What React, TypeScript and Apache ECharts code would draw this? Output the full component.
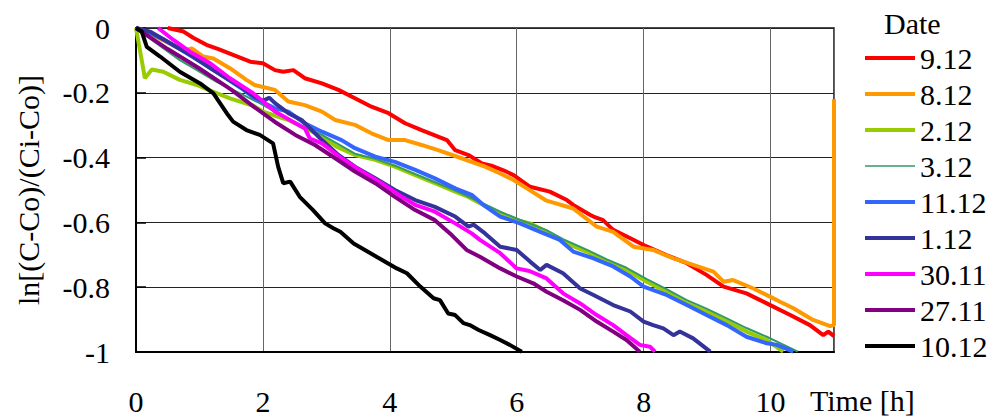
import React, { useEffect, useRef } from "react";
import * as echarts from "echarts";

type P = [number, number];

const seriesNames = ["9.12", "8.12", "2.12", "3.12", "11.12", "1.12", "30.11", "27.11", "10.12"];
const seriesColors = ["#ff0000", "#ff9900", "#99cc00", "#339966", "#3366ff", "#333399", "#ff00ff", "#800080", "#000000"];

const d0912: P[] = [[0.5,0],[0.75,-0.011],[0.9,-0.03],[1.11,-0.052],[1.3,-0.065],[1.53,-0.083],[1.8,-0.104],[2.0,-0.109],[2.19,-0.13],[2.32,-0.135],[2.48,-0.13],[2.66,-0.155],[2.93,-0.171],[3.19,-0.191],[3.45,-0.217],[3.71,-0.243],[3.98,-0.263],[4.24,-0.294],[4.5,-0.315],[4.76,-0.335],[4.9,-0.346],[5.03,-0.377],[5.24,-0.392],[5.45,-0.418],[5.6,-0.425],[5.8,-0.44],[5.95,-0.454],[6.21,-0.49],[6.52,-0.505],[6.79,-0.531],[6.89,-0.546],[7.16,-0.577],[7.21,-0.582],[7.36,-0.593],[7.52,-0.623],[7.79,-0.649],[8.0,-0.67],[8.36,-0.701],[8.68,-0.726],[8.99,-0.762],[9.26,-0.798],[9.62,-0.819],[9.94,-0.85],[10.31,-0.886],[10.62,-0.917],[10.83,-0.948],[10.91,-0.937],[11.0,-0.951]];
const d0812: P[] = [[0,0],[0.3,-0.025],[0.55,-0.05],[0.75,-0.07],[0.88,-0.063],[1.06,-0.088],[1.22,-0.094],[1.48,-0.124],[1.74,-0.16],[1.87,-0.176],[2.19,-0.191],[2.4,-0.227],[2.66,-0.238],[2.93,-0.258],[3.14,-0.284],[3.45,-0.299],[3.71,-0.325],[3.98,-0.346],[4.24,-0.346],[4.5,-0.361],[4.76,-0.377],[5.13,-0.402],[5.5,-0.428],[5.74,-0.449],[5.95,-0.469],[6.16,-0.495],[6.47,-0.533],[6.89,-0.557],[7.26,-0.613],[7.52,-0.629],[7.84,-0.675],[8.15,-0.685],[8.47,-0.711],[8.78,-0.731],[9.1,-0.752],[9.26,-0.783],[9.41,-0.778],[9.73,-0.804],[9.99,-0.829],[10.15,-0.845],[10.36,-0.865],[10.67,-0.901],[10.94,-0.92],[11.0,-0.917],[11.0,-0.22]];
const d0212: P[] = [[0,0],[0.14,-0.155],[0.25,-0.128],[0.43,-0.135],[0.69,-0.16],[0.96,-0.176],[1.22,-0.197],[1.48,-0.217],[1.85,-0.24],[2.0,-0.258],[2.4,-0.284],[2.65,-0.308],[2.93,-0.335],[3.16,-0.366],[3.45,-0.392],[3.77,-0.407],[4.08,-0.428],[4.4,-0.454],[4.71,-0.479],[5.03,-0.505],[5.2,-0.518],[5.42,-0.541],[5.74,-0.572],[6.0,-0.593],[6.21,-0.603],[6.47,-0.629],[6.73,-0.66],[7.1,-0.69],[7.42,-0.721],[7.73,-0.747],[8.05,-0.783],[8.36,-0.814],[8.68,-0.85],[8.99,-0.875],[9.31,-0.906],[9.62,-0.937],[9.94,-0.963],[10.2,-0.999]];
const d0312: P[] = [[0,0],[0.32,-0.047],[0.69,-0.099],[0.96,-0.13],[1.27,-0.166],[1.64,-0.202],[1.95,-0.232],[2.4,-0.282],[2.93,-0.33],[3.45,-0.388],[3.77,-0.404],[4.08,-0.425],[4.4,-0.451],[4.71,-0.476],[5.03,-0.502],[5.42,-0.537],[5.74,-0.567],[6.0,-0.588],[6.47,-0.624],[6.73,-0.652],[7.1,-0.684],[7.42,-0.714],[7.73,-0.74],[8.05,-0.775],[8.36,-0.806],[8.68,-0.84],[8.99,-0.866],[9.31,-0.896],[9.62,-0.926],[9.94,-0.953],[10.2,-0.977],[10.43,-0.999]];
const d1112: P[] = [[0,0],[0.12,-0.006],[0.43,-0.035],[0.75,-0.072],[1.06,-0.11],[1.38,-0.15],[1.69,-0.19],[1.87,-0.217],[2.19,-0.248],[2.4,-0.258],[2.66,-0.294],[2.93,-0.32],[3.24,-0.346],[3.45,-0.371],[3.77,-0.397],[4.08,-0.413],[4.4,-0.438],[4.71,-0.464],[5.03,-0.495],[5.29,-0.515],[5.5,-0.55],[5.74,-0.582],[6.05,-0.603],[6.37,-0.629],[6.68,-0.654],[6.89,-0.69],[7.21,-0.711],[7.52,-0.736],[7.79,-0.767],[8.0,-0.798],[8.36,-0.824],[8.68,-0.855],[8.99,-0.886],[9.31,-0.917],[9.62,-0.953],[9.94,-0.973],[10.1,-0.978],[10.36,-0.999]];
const d0112: P[] = [[0,0],[0.22,-0.011],[0.54,-0.047],[0.9,-0.088],[1.22,-0.13],[1.64,-0.181],[1.87,-0.212],[2.0,-0.225],[2.1,-0.215],[2.19,-0.232],[2.4,-0.263],[2.61,-0.284],[2.72,-0.305],[2.93,-0.346],[3.19,-0.392],[3.45,-0.428],[3.77,-0.464],[4.08,-0.5],[4.4,-0.531],[4.71,-0.552],[5.03,-0.582],[5.24,-0.613],[5.32,-0.607],[5.5,-0.634],[5.74,-0.675],[6.0,-0.685],[6.21,-0.721],[6.37,-0.747],[6.47,-0.731],[6.73,-0.757],[7.0,-0.804],[7.21,-0.824],[7.52,-0.855],[7.79,-0.875],[8.0,-0.906],[8.15,-0.917],[8.31,-0.927],[8.47,-0.948],[8.57,-0.937],[8.78,-0.958],[9.05,-0.999]];
const d3011: P[] = [[0.35,0],[0.59,-0.037],[0.85,-0.073],[1.17,-0.109],[1.48,-0.155],[1.85,-0.202],[2.19,-0.258],[2.66,-0.31],[2.74,-0.341],[2.93,-0.356],[3.24,-0.402],[3.56,-0.443],[3.87,-0.479],[4.19,-0.521],[4.4,-0.546],[4.71,-0.567],[5.03,-0.603],[5.29,-0.634],[5.42,-0.654],[5.74,-0.695],[6.0,-0.742],[6.2,-0.75],[6.47,-0.773],[6.73,-0.819],[7.0,-0.85],[7.26,-0.886],[7.52,-0.917],[7.73,-0.948],[7.94,-0.978],[8.1,-0.984],[8.18,-0.999]];
const d2711: P[] = [[0,0],[0.12,-0.016],[0.5,-0.065],[1.0,-0.125],[1.5,-0.19],[1.87,-0.245],[2.19,-0.29],[2.51,-0.33],[2.82,-0.361],[3.14,-0.402],[3.45,-0.443],[3.77,-0.479],[4.08,-0.521],[4.4,-0.562],[4.71,-0.593],[4.98,-0.64],[5.21,-0.685],[5.42,-0.706],[5.74,-0.742],[6.0,-0.767],[6.26,-0.788],[6.47,-0.814],[6.73,-0.84],[7.0,-0.87],[7.26,-0.906],[7.52,-0.937],[7.73,-0.963],[7.94,-0.999]];
const d1012: P[] = [[0,0],[0.09,-0.011],[0.17,-0.058],[0.38,-0.088],[0.69,-0.135],[1.01,-0.171],[1.22,-0.202],[1.43,-0.263],[1.53,-0.289],[1.74,-0.315],[1.95,-0.33],[2.16,-0.356],[2.24,-0.428],[2.32,-0.479],[2.43,-0.474],[2.58,-0.521],[2.79,-0.562],[2.98,-0.603],[3.11,-0.618],[3.22,-0.629],[3.43,-0.665],[3.79,-0.706],[4.11,-0.742],[4.27,-0.757],[4.48,-0.798],[4.69,-0.834],[4.79,-0.84],[4.92,-0.881],[5.03,-0.886],[5.16,-0.911],[5.26,-0.917],[5.4,-0.932],[5.58,-0.948],[5.74,-0.963],[5.89,-0.978],[6.08,-0.999]];

const seriesData: P[][] = [d0912, d0812, d0212, d0312, d1112, d0112, d3011, d2711, d1012];
const lineWidths = [4, 4, 4, 2, 4, 4, 4, 4, 4];

const FONT = "Liberation Serif";
const THICK_ICON = "rect";
const THIN_ICON = "path://M0,1.2L50,1.2L50,2.8L0,2.8ZM0,0M50,4";

export default function App() {
  const ref = useRef<HTMLDivElement>(null);
  useEffect(() => {
    if (!ref.current) return;
    const chart = echarts.init(ref.current, null, { renderer: "svg" });
    chart.setOption({
      animation: false,
      backgroundColor: "#ffffff",
      grid: {
        left: 136,
        top: 28,
        width: 698,
        height: 324,
        show: true,
        borderColor: "#111",
        borderWidth: 1.5,
        backgroundColor: "transparent",
      },
      legend: {
        orient: "vertical",
        left: 865,
        top: 43,
        padding: 0,
        itemWidth: 50,
        itemHeight: 4,
        itemGap: 6,
        data: seriesNames.map((name, i) => ({
          name,
          icon: lineWidths[i] < 3 ? THIN_ICON : THICK_ICON,
          itemStyle: { color: seriesColors[i] },
        })),
        textStyle: { fontFamily: FONT, fontSize: 30, color: "#000" },
      },
      xAxis: {
        type: "value",
        min: 0,
        max: 11,
        interval: 2,
        axisLine: { show: true, onZero: false, lineStyle: { color: "#000", width: 2 } },
        axisTick: { show: false },
        splitLine: { show: true, lineStyle: { color: "#666", width: 1 } },
        axisLabel: {
          fontFamily: FONT,
          fontSize: 30,
          color: "#000",
          margin: 34,
          formatter: (v: number) => (v > 10.5 ? "" : String(v)),
        },
      },
      yAxis: {
        type: "value",
        min: -1,
        max: 0,
        interval: 0.2,
        name: "ln[(C-Co)/(Ci-Co)]",
        nameLocation: "middle",
        nameGap: 93,
        nameTextStyle: { fontFamily: FONT, fontSize: 30, color: "#000" },
        axisLine: { show: true, lineStyle: { color: "#000", width: 2 } },
        axisTick: { show: true, inside: true, length: 10, lineStyle: { color: "#000", width: 1.5 } },
        splitLine: { show: true, lineStyle: { color: "#222", width: 1 } },
        axisLabel: {
          fontFamily: FONT,
          fontSize: 30,
          color: "#000",
          margin: 26,
          padding: [6, 0, 0, 0],
          formatter: (v: number) => String(Math.round(v * 10) / 10),
        },
      },
      graphic: [
        {
          type: "text",
          left: 810,
          top: 385,
          style: { text: "Time [h]", font: `30px ${FONT}`, fill: "#000" },
        },
        {
          type: "text",
          left: 884,
          top: 8,
          style: { text: "Date", font: `30px ${FONT}`, fill: "#000" },
        },
      ],
      series: seriesNames.map((name, i) => ({
        name,
        type: "line",
        data: seriesData[i],
        symbol: "none",
        showSymbol: false,
        clip: true,
        color: seriesColors[i],
        lineStyle: { color: seriesColors[i], width: lineWidths[i] },
        z: 2 + i,
      })),
    });
    return () => chart.dispose();
  }, []);
  return <div ref={ref} style={{ position: "fixed", left: 0, top: 0, width: 997, height: 419 }} />;
}
